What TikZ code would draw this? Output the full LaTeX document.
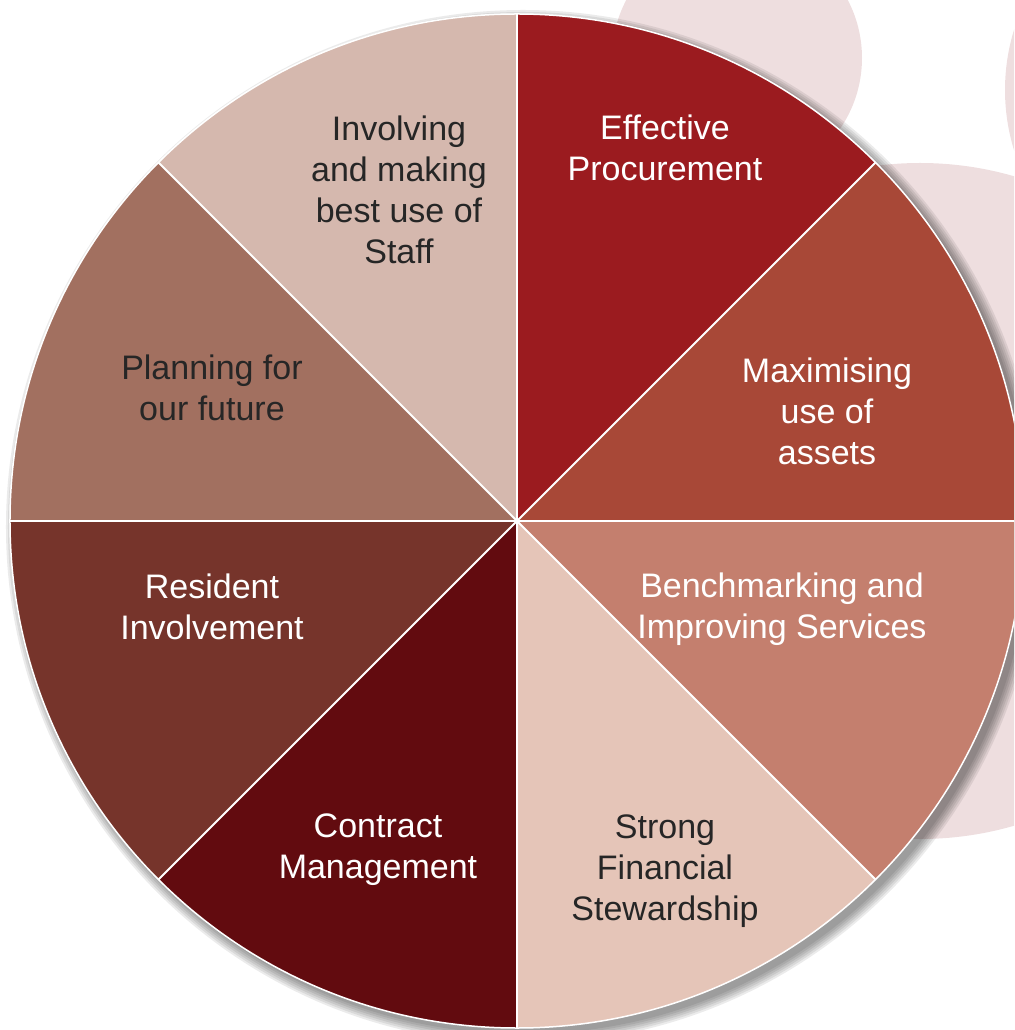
\documentclass[tikz,border=0pt]{standalone}
\usepackage{fontspec}
\setmainfont{Liberation Sans}
\usepackage{xcolor}
\usetikzlibrary{calc}
\definecolor{bgPink}{HTML}{EEDEDF}
\definecolor{procRed}{HTML}{9B1B1F}
\definecolor{assetRed}{HTML}{A84837}
\definecolor{benchRose}{HTML}{C47F6E}
\definecolor{stewPink}{HTML}{E5C5B8}
\definecolor{contractMaroon}{HTML}{620B0F}
\definecolor{residentBrown}{HTML}{76342B}
\definecolor{planBrown}{HTML}{A27060}
\definecolor{staffPink}{HTML}{D5B8AE}
\definecolor{darkText}{HTML}{262626}
\def\R{507}
\tikzset{
	label/.style={align=center, font=\fontsize{34}{41}\selectfont, inner sep=0pt},
	light/.style={label, text=darkText},
	dark/.style={label, text=white}
}

\begin{document}
\begin{tikzpicture}[x=1pt, y=1pt, line cap = round]
	\useasboundingbox (-517,-509) rectangle (497,521);
	\clip (-517,-509) rectangle (497,521);

	% circles behind
	\fill[bgPink] (220,463) circle (125);
	\fill[bgPink] (403,20) circle (338);
	\fill[bgPink] (692,431) circle (204);

	% soft shadow
	\foreach \k in {10,8,...,0}
		\fill[black, opacity=0.08] (6,-6) circle (\R+\k);

	\coordinate (O) at (0,0);
	\foreach \a in {0,45,...,315}
		\coordinate (r\a) at (\a:\R);

	\fill[assetRed] (O) -- (r0) arc(0:45:\R) -- cycle;
	\fill[procRed] (O) -- (r45) arc(45:90:\R) -- cycle;
	\fill[staffPink] (O) -- (r90) arc(90:135:\R) -- cycle;
	\fill[planBrown] (O) -- (r135) arc(135:180:\R) -- cycle;
	\fill[residentBrown] (O) -- (r180) arc(180:225:\R) -- cycle;
	\fill[contractMaroon] (O) -- (r225) arc(225:270:\R) -- cycle;
	\fill[stewPink] (O) -- (r270) arc(270:315:\R) -- cycle;
	\fill[benchRose] (O) -- (r315) arc(315:360:\R) -- cycle;

	\foreach \a in {0,45,...,315}
		\draw[white, line width=2pt] (O) -- (r\a);
	\draw[white, line width=1.5pt] (O) circle (\R);

	\node[light] (staff) at (-118,331) {Involving\\and making\\best use of\\Staff};
	\node[dark] (proc) at (148,373) {Effective\\Procurement};
	\node[dark] (assets) at (310,110) {Maximising\\use of\\assets};
	\node[dark] (bench) at (265,-88) {Benchmarking and\\Improving Services};
	\node[light] (stew) at (148,-350) {Strong\\Financial\\Stewardship};
	\node[dark] (contract) at (-139,-329) {Contract\\Management};
	\node[dark] (resident) at (-305,-86) {Resident\\Involvement};
	\node[light] (plan) at (-305,133) {Planning for\\our future};

\end{tikzpicture}
\end{document}
